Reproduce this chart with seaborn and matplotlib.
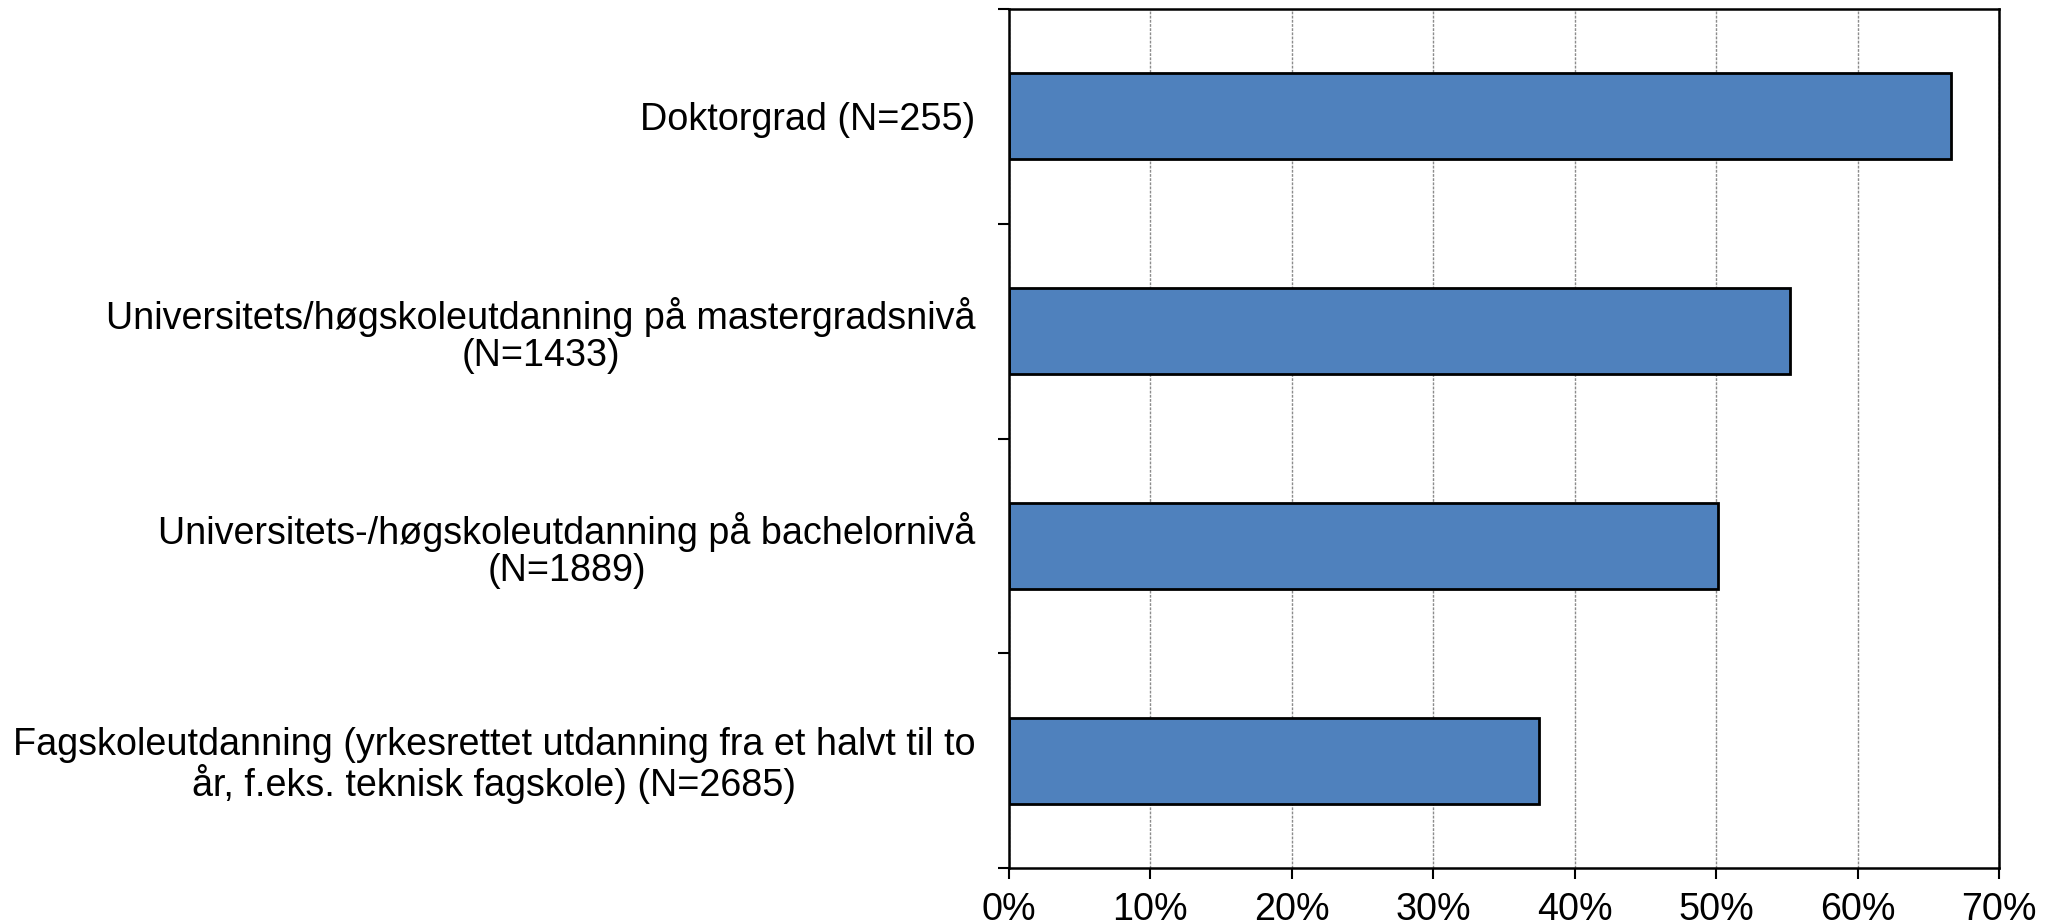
import pandas as pd
import matplotlib
matplotlib.use("Agg")
import matplotlib.pyplot as plt
import seaborn as sns
from matplotlib.ticker import FixedLocator, FuncFormatter

# Values
categories = [
    "Doktorgrad (N=255)",
    "Universitets/høgskoleutdanning på mastergradsnivå\n(N=1433)",
    "Universitets-/høgskoleutdanning på bachelornivå\n(N=1889)",
    "Fagskoleutdanning (yrkesrettet utdanning fra et halvt til to\når, f.eks. teknisk fagskole) (N=2685)",
]
shares = [0.666, 0.552, 0.501, 0.375]

df = pd.DataFrame({"category": categories, "share": shares})

sns.set_style("white")
plt.rcParams["font.family"] = ["Liberation Sans", "DejaVu Sans"]
plt.rcParams["text.color"] = "black"
plt.rcParams["xtick.color"] = "black"
plt.rcParams["ytick.color"] = "black"

fig = plt.figure(figsize=(20.49, 9.24), dpi=100)
ax = fig.add_axes([1009 / 2049, 1 - 868 / 924, (1999 - 1009) / 2049, (868 - 9) / 924])

sns.barplot(data=df, x="share", y="category", orient="h", color="#4F81BD",
            width=0.4, edgecolor="black", linewidth=2, saturation=1, ax=ax)

ax.set_xlim(0, 0.7)
ax.set_ylim(3.5, -0.5)
ax.set_xticks([i / 10 for i in range(8)])
ax.xaxis.set_major_formatter(FuncFormatter(lambda v, p: f"{v * 100:.0f}%"))
ax.grid(axis="x", color="#8c8c8c", linestyle=(0, (2, 1)), linewidth=1)
ax.set_axisbelow(True)

# category labels centred, boundary ticks outward
ax.tick_params(axis="y", which="major", length=0, pad=24, labelsize=27.2)
ax.yaxis.set_minor_locator(FixedLocator([-0.5, 0.5, 1.5, 2.5, 3.5]))
ax.tick_params(axis="y", which="minor", length=8, width=1.5, color="black", left=True)
ax.tick_params(axis="x", length=8, width=1.5, color="black", pad=9, labelsize=27.2, bottom=True)
for t in ax.get_yticklabels():
    t.set_multialignment("center")
    t.set_linespacing(1.03)
    t.set_color("black")

for s in ax.spines.values():
    s.set_visible(True)
    s.set_color("black")
    s.set_linewidth(1.8)

ax.set_xlabel("")
ax.set_ylabel("")

fig.savefig("out.png", dpi=100)
